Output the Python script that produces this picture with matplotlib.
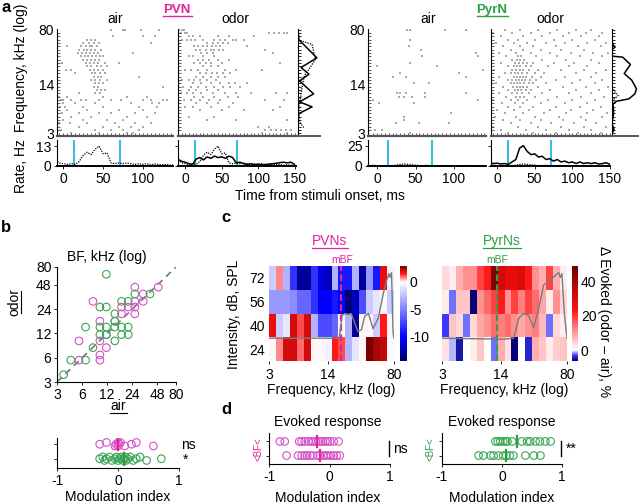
import numpy as np
import matplotlib
matplotlib.use("Agg")
import matplotlib.pyplot as plt
from matplotlib.colors import LinearSegmentedColormap, Normalize
from matplotlib.lines import Line2D
from matplotlib.ticker import FixedLocator, NullFormatter, NullLocator

plt.rcParams['font.family'] = ['Liberation Sans', 'DejaVu Sans']
plt.rcParams['font.size'] = 9

MAG = '#e0249a'
GRN = '#2e9e44'
MAG_PT = '#d650c6'
GRN_PT = '#3aa655'
CYAN = '#36bde0'

# ---------------- panel a: rasters (row index -> spike times, ms) ----------------
freq_rows = np.geomspace(3, 80, 32)
t_bins = np.arange(-10, 155, 5)
cue_times = [14, 71]

pvn_air_spikes = {
    31: [60, 75, 78, 98, 120], 29: [62, 100, 115], 28: [30, 35, 40],
    27: [25, 32, 38, 45, 110], 26: [5, 22, 28, 33, 36, 42], 25: [20, 26, 30, 35, 40, 48],
    24: [18, 24, 29, 34, 39, 44, 88], 23: [22, 27, 31, 36, 41, 46, 50], 22: [25, 30, 35, 40, 45],
    21: [-2, 28, 33, 38, 43, 52, 70], 20: [30, 35, 42, 48, 55], 19: [3, 10, 33, 38, 44, 50],
    18: [15, 36, 40, 46, 52], 17: [38, 43, 48, 95], 16: [35, 40, 46, 55], 15: [40, 45, 50],
    14: [38, 44, 125], 13: [42, 47, 52], 12: [20, 40, 46], 11: [-5, 5, 50, 80, 105],
    10: [-3, 0, 10, 22, 28, 45, 60, 72, 100, 110, 125, 130], 9: [0, 15, 40, 85, 112, 120],
    8: [-4, 2, 25, 50, 95, 118], 7: [5, 30, 70, 100], 6: [-2, 20, 45, 60, 90, 115],
    5: [10, 35, 80, 105], 4: [0, 25, 55, 75], 3: [-5, 8, 30, 65, 90, 110],
    2: [20, 50, 70, 85, 100], 1: [-3, 40, 60, 75, 95], 0: [10, 45, 80, 88],
}
pvn_odor_spikes = {
    31: [-8, -5, -2], 30: [-6, 0, 3, 115, 122, 128, 135, 140], 29: [5, 10, 20, 45, 60, 95],
    28: [-4, 2, 8, 14, 25, 40, 48, 55, 65, 70, 80], 27: [30, 38, 45, 52, 58],
    26: [12, 18, 25, 30, 36, 42, 48, 85], 25: [15, 20, 28, 35, 40, 46, 52, 110],
    24: [22, 30, 38, 120], 23: [5, 10, 25, 40], 22: [18, 25, 32, 45, 60],
    21: [12, 20, 28, 35, 50, 130], 20: [25, 35, 45], 19: [0, 8, 18, 30, 55, 70, 105],
    18: [20, 28, 36, 44, 52, 62], 17: [15, 25, 35, 45, 55], 16: [-5, 5, 12, 20, 30, 42],
    15: [10, 22, 35, 48, 60, 68, 85], 14: [-3, 8, 18, 28, 40, 52, 62, 75], 13: [5, 15, 30, 45],
    12: [-6, 2, 10, 22, 38, 55, 70, 90, 125, 140], 11: [12, 25, 40, 58, 72],
    10: [-2, 8, 20, 32, 48, 110, 135], 9: [15, 30, 45, 65], 8: [0, 10, 35, 60, 130],
    7: [20, 50, 80, 120], 5: [5, 40], 4: [30, 70, 140], 2: [100, 115],
    1: [110, 118, 125, 132, 138, 145], 0: [105, 140],
}
pyr_air_spikes = {
    31: [39, 43, 89, 116], 28: [43], 26: [41], 25: [57], 24: [129], 23: [59, 131], 21: [43],
    20: [0, 78], 19: [138], 18: [30, 107], 17: [21, 37, 116], 15: [48, 67],
    12: [26, 30, 37, 63, 116], 11: [28, 35, 46, 63], 10: [-5, 131], 9: [2, 48], 6: [96],
    5: [35], 4: [35], 3: [24, 54, 94], 1: [-3, 6], 0: [43],
}
pyr_odor_spikes = {
    31: [10, 30, 55, 80, 105, 125], 30: [-5, 20, 45, 70, 95, 118, 140],
    29: [5, 35, 60, 88, 112, 135], 28: [15, 28, 50, 75, 100, 130],
    27: [-2, 22, 40, 65, 90, 120, 145], 26: [8, 30, 48, 78, 108, 138],
    25: [18, 35, 58, 85, 115], 24: [2, 25, 45, 70, 98, 128, 148],
    23: [12, 28, 32, 52, 80, 110, 140], 22: [20, 26, 30, 36, 60, 92, 125],
    21: [5, 24, 29, 34, 40, 48, 75, 102, 135], 20: [15, 22, 27, 31, 38, 45, 68, 95, 120],
    19: [-4, 20, 25, 30, 35, 42, 55, 85, 115, 145], 18: [10, 18, 24, 28, 33, 40, 50, 62, 105, 132],
    17: [3, 22, 26, 30, 34, 38, 46, 58, 90, 125], 16: [14, 20, 25, 29, 33, 37, 44, 52, 78, 110, 140],
    15: [-2, 18, 23, 27, 31, 36, 42, 48, 65, 100, 130], 14: [8, 21, 26, 30, 34, 40, 55, 88, 118, 148],
    13: [15, 24, 28, 32, 38, 45, 70, 105, 135], 12: [2, 20, 27, 33, 42, 60, 95, 125],
    11: [12, 25, 30, 36, 50, 80, 112, 142], 10: [-5, 18, 28, 40, 68, 100, 130],
    9: [6, 24, 35, 58, 90, 120], 8: [15, 30, 48, 78, 110, 138], 7: [0, 22, 42, 70, 98, 128],
    6: [10, 35, 62, 92, 120, 146], 5: [-3, 25, 50, 82, 112, 140], 4: [8, 30, 58, 88, 118],
    3: [18, 45, 72, 102, 132], 2: [-6, 28, 55, 85, 115, 145], 1: [5, 38, 65, 95, 125],
    0: [15, 48, 78, 108, 138],
}

# firing rate (Hz), 5 ms bins from -10 to 150 ms
pvn_air_rate = [4, 2, 1.5, 1, 1.5, 1, 3, 7, 9, 7.5, 11, 13, 8, 8.5, 2, 1.5, 2, 1.5, 2, 1.5,
                1, 1.5, 1, 1.5, 0.8, 1.2, 1, 0.8, 1, 0.5, 0.8, 0.5, 0.5]
pvn_odor_rate = [4.5, 3, 2.5, 1.5, 1, 4.5, 5.5, 4, 6, 5, 6.5, 5.5, 6, 5, 6.5, 5.5, 2, 2.5, 1.5, 1,
                 1.5, 0.8, 1.2, 0.8, 1, 1.2, 1.5, 1.8, 2.2, 2.5, 2, 2.5, 1]
pyr_air_rate = [0.5, 0.8, 0.5, 0.3, 0.5, 0.3, 0.5, 1, 2, 2.5, 2, 1.5, 1, 0.5, 0.5, 0.8, 0.5, 0.3,
                0.5, 0.3, 0.5, 0.3, 0.2, 0.4, 0.3, 0.5, 0.3, 0.2, 0.4, 0.3, 0.2, 0.3, 0.2]
pyr_odor_rate = [4, 3, 3.5, 2.5, 3, 2, 5, 8, 22, 25, 18, 14, 15, 11, 12, 8, 9, 6, 8, 5, 6, 4, 5,
                 3, 5, 3, 4, 3, 4, 2.5, 3, 4, 2]

# side frequency profiles (normalised rate, row index)
pvn_prof_solid_x = [0.0, 0.04, 0.86, 0.14, 0.5, 0.07, 0.71, 0.07, 0.64, 0.04, 0.0, 0.0]
pvn_prof_solid_row = [31, 28, 22.6, 19.7, 17.7, 15.7, 11.8, 9.4, 7.9, 5.9, 3, 0]
pvn_prof_dot_x = [0.0, 0.0, 0.64, 0.79, 0.5, 0.29, 0.21, 0.14, 0.07, 0.0, 0.07, 0.29]
pvn_prof_dot_row = [31, 28, 26.6, 22.1, 19.2, 17.2, 14.8, 11.8, 8.9, 5.9, 3.4, 1.4]
pyr_prof_solid_x = [0.0, 0.0, 0.04, 0.12, 0.0, 0.0, 0.41, 0.71, 0.47, 0.76, 0.94, 0.88, 0.65,
                    0.18, 0.04, 0.06, 0.0, 0.08, 0.0]
pyr_prof_solid_row = [31, 27.5, 26.5, 25.8, 25.1, 23.1, 22.8, 20.6, 17.9, 15.9, 13.3, 11.8,
                      10.3, 9.6, 8.8, 5.9, 3.0, 1.0, 0]
pyr_prof_dot_x = [0.0, 0.0, 0.12, 0.24, 0.08, 0.0, 0.0]
pyr_prof_dot_row = [31, 13.7, 12.3, 11.3, 10.3, 9.3, 0]

# ---------------- panel b ----------------
pvn_bf_air = [8.1, 5.5, 5.5, 9.8, 9.8, 9.8, 9.8, 11.7, 11.7, 17.8, 17.8, 14.8, 25.7, 25.7,
              25.7, 25.7, 32.4, 32.4, 49, 21.4]
pvn_bf_odor = [30, 9.7, 5.6, 17, 9.7, 6.5, 5.6, 8, 11.6, 25.5, 21, 17, 45, 30, 25.5, 21, 37,
               30, 45, 25.5]
pyr_bf_air = [11.7, 25.7, 39, 9.8, 11.7, 17.8, 21.4, 14.8, 6.6, 9.8, 11.7, 14.8, 17.8, 21.4,
              9.8, 11.7, 17.8, 21.4, 14.8, 8.1, 6.6, 4.4, 3.6, 14.8]
pyr_bf_odor = [65, 37, 37, 25.5, 25.5, 30, 30, 21, 14.4, 14.4, 14.4, 14.4, 14.4, 14.4, 11.6,
               11.6, 11.6, 11.6, 9.7, 8, 5.6, 5.6, 3.7, 17]
pvn_mi_b = [-0.30, -0.19, -0.05, -0.03, 0.0, 0.0, 0.02, 0.04, 0.11, 0.22, 0.30, 0.58]
pyr_mi_b = [-0.30, -0.25, -0.22, -0.19, -0.14, -0.10, -0.05, -0.02, 0.0, 0.03, 0.05, 0.08,
            0.10, 0.12, 0.13, 0.16, 0.20, 0.25, 0.30, 0.36, 0.47, 0.71]
pvn_mi_b_med = 0.0
pyr_mi_b_med = 0.10

# ---------------- panel c ----------------
db_levels = [24, 40, 56, 72]
freq_edges = np.geomspace(3, 80, 19)
pvn_delta = [
    [0, 0.8, 2, 2, 1, 2, 0, 0, -0.5, 1.5, 1.2, -3, -1, 0, 2.9, 2.4, 2.2, 0],
    [1.8, -2, -1, 2, 1.2, 2, -3, -7, -7, -6, 0, -3, -13, 0, 0, -2, 1.5, 0],
    [-4, -4, -4, -4.5, -6, -6, -8, -10, -10, -9, -10, -14, -12, -7, -2, -1, 0, -2],
    [-2, 0.8, -3, -8, -13, -13, -8, -11, -12, -3, -9, -9, -3, -13, -4, -9, 1.8, -0.5],
]
pyr_delta = [
    [3, -1, -5, 0, 2, 6, 0, -2, 8, 3, -6, 0, -4, 8, 6, 2, 5, 6],
    [-3, 6, 4, -2, 4, 9, 11, 15, 13, 15, 11, 9, 11, 13, 7, -2, 4, 2],
    [2, -2, 6, 6, -6, 11, 15, 19, 23, 11, 19, 13, 19, 15, 9, 2, 11, 4],
    [4, 2, 8, 11, 11, 19, 23, 46, 32, 28, 28, 30, 23, 11, 8, 19, 8, 2],
]
pvn_mbf = 20
pyr_mbf = 12.6
pvn_tc_f = [3, 19, 20.5, 22, 24, 26, 28.5, 31, 34, 37, 41, 46, 53, 60, 66, 70, 72, 75, 78, 80]
pvn_tc_h = [0.24, 0.24, 0.48, 0.50, 0.49, 0.50, 0.40, 0.31, 0.33, 0.47, 0.50, 0.34, 0.45, 0.70,
            0.85, 0.92, 0.88, 0.93, 0.30, 0.24]
pyr_tc_f = [3, 15, 19.7, 22.5, 25.6, 29.2, 33.3, 38, 43.3, 51.6, 58.8, 64.2, 67, 70, 74.6, 80]
pyr_tc_h = [0.24, 0.23, 0.24, 0.45, 0.50, 0.48, 0.35, 0.55, 0.80, 0.85, 0.90, 0.93, 0.88,
            0.92, 0.50, 0.24]

# ---------------- panel d ----------------
pvn_d_up = [-0.82, -0.74, -0.5, -0.46, -0.41, -0.35, -0.31, -0.27, -0.22, -0.18, -0.14,
            -0.11, -0.07, -0.03, 0.01, 0.07, 0.15]
pvn_d_lo = [-0.71, -0.52, -0.46, -0.41, -0.37, -0.32, -0.27, -0.2, -0.16, -0.1, -0.06,
            -0.02, 0.02, 0.07, 0.12, 0.17]
pvn_d_med = [-0.21, -0.16]
pyr_d_up = [-0.11, -0.07, -0.03, 0.02, 0.06, 0.09, 0.17, 0.33, 0.42, 0.47, 0.56, 0.63, 0.72, 0.81]
pyr_d_lo = [-0.39, -0.31, -0.19, -0.14, -0.06, 0.02, 0.07, 0.13, 0.19, 0.39, 0.53, 0.64]
pyr_d_med = [0.25, 0.07]

W, H = 640, 504
fig = plt.figure(figsize=(6.4, 5.04), dpi=100)


def box(l, t, r, b):
    return fig.add_axes([l / W, 1 - b / H, (r - l) / W, (b - t) / H])


def ftext(x, y, s, **kw):
    kw.setdefault('ha', 'center')
    kw.setdefault('va', 'center')
    fig.text(x / W, 1 - y / H, s, **kw)


def fline(x0, y0, x1, y1, **kw):
    fig.add_artist(Line2D([x0 / W, x1 / W], [1 - y0 / H, 1 - y1 / H],
                          transform=fig.transFigure, **kw))


def row_freq(rows):
    return 3 * (80 / 3) ** (np.array(rows) / 31)


def only_left_bottom(ax):
    ax.spines['top'].set_visible(False)
    ax.spines['right'].set_visible(False)


FLO = 2.75


def raster(ax, spikes, xlim, show_labels):
    xs, ys = [], []
    for r, ts in spikes.items():
        xs.extend(ts)
        ys.extend([freq_rows[r]] * len(ts))
    ax.scatter(xs, ys, s=1.1, marker='s', c='#aaaaaa', linewidths=0)
    ax.set_yscale('log')
    ax.set_ylim(FLO, 82)
    ax.set_xlim(*xlim)
    ax.yaxis.set_major_locator(FixedLocator([3, 14, 80]))
    ax.yaxis.set_minor_locator(FixedLocator(freq_rows))
    ax.yaxis.set_minor_formatter(NullFormatter())
    ax.set_yticklabels(['3', '14', '80'] if show_labels else [])
    ax.xaxis.set_major_locator(FixedLocator(np.arange(-5, 151, 5)))
    ax.set_xticklabels([])
    ax.tick_params(which='both', length=2, direction='in', width=0.6, color='#444444')
    ax.tick_params(axis='y', which='major', length=0, pad=2, labelsize=10)
    only_left_bottom(ax)
    ax.spines['bottom'].set_linewidth(1.6)
    ax.spines['bottom'].set_color('#555555')
    ax.spines['left'].set_linewidth(0.8)


def rate(ax, solid, dotted, xlim, ymax, ytop, xt, show_labels):
    for c in cue_times:
        ax.axvline(c, color=CYAN, lw=1.5)
    if dotted is not None:
        ax.plot(t_bins, dotted, ls=(0, (1, 1)), color='k', lw=0.9)
    if solid is not None:
        ax.plot(t_bins, solid, color='k', lw=1.1)
    ax.set_xlim(*xlim)
    ax.set_ylim(0, ymax)
    ax.set_xticks(xt)
    ax.set_yticks([0, ytop])
    ax.set_yticklabels(['0', str(ytop)] if show_labels else [])
    ax.tick_params(length=2, pad=2, labelsize=10, width=0.6)
    only_left_bottom(ax)
    ax.spines['bottom'].set_linewidth(1.4)


def profile(ax, sx, srow, dx, drow):
    ax.plot(dx, row_freq(drow), ls=(0, (1, 1)), color='k', lw=0.9)
    ax.plot(sx, row_freq(srow), color='k', lw=1.1)
    ax.set_yscale('log')
    ax.set_ylim(FLO, 82)
    ax.set_xlim(0, 1)
    ax.yaxis.set_major_locator(FixedLocator(freq_rows))
    ax.yaxis.set_minor_locator(NullLocator())
    ax.set_yticklabels([])
    ax.set_xticks([])
    ax.tick_params(length=2, direction='in', width=0.6)
    only_left_bottom(ax)
    ax.spines['bottom'].set_linewidth(1.4)
    ax.spines['bottom'].set_color('#555555')


# ---------------- panel a ----------------
raster(box(57, 29, 173, 136), pvn_air_spikes, (-8, 138), True)
raster(box(178, 29, 296, 136), pvn_odor_spikes, (-10, 152), False)
profile(box(298, 29, 320, 136), pvn_prof_solid_x, pvn_prof_solid_row, pvn_prof_dot_x, pvn_prof_dot_row)
rate(box(57, 140, 173, 166), None, pvn_air_rate, (-8, 138), 17, 13, [0, 50, 100], True)
rate(box(178, 140, 296, 166), pvn_odor_rate, pvn_air_rate, (-10, 152), 17, 13, [0, 50, 100, 150], False)

raster(box(368, 29, 486, 136), pyr_air_spikes, (-12, 142), True)
raster(box(491, 29, 610, 136), pyr_odor_spikes, (-8, 150), False)
profile(box(612, 29, 638, 136), pyr_prof_solid_x, pyr_prof_solid_row, pyr_prof_dot_x, pyr_prof_dot_row)
rate(box(368, 140, 486, 166), None, pyr_air_rate, (-12, 142), 32, 25, [0, 50, 100], True)
rate(box(491, 140, 610, 166), pyr_odor_rate, pyr_air_rate, (-8, 150), 32, 25, [0, 50, 100, 150], False)

ftext(6, 8, 'a', fontsize=12, fontweight='bold')
ftext(177, 10, 'PVN', color=MAG, fontweight='bold', fontsize=9.5)
fline(163, 16, 192, 16, color=MAG, lw=1)
ftext(492, 10, 'PyrN', color=GRN, fontweight='bold', fontsize=9.5)
fline(477, 16, 508, 16, color=GRN, lw=1)
for x, s in [(115, 'air'), (235, 'odor'), (428, 'air'), (550, 'odor')]:
    ftext(x, 19, s, fontsize=10)
ftext(21, 68, 'Frequency, kHz (log)', rotation=90, fontsize=10)
ftext(21, 166, 'Rate, Hz', rotation=90, fontsize=10)
ftext(320, 196, 'Time from stimuli onset, ms', fontsize=10)

# ---------------- panel b ----------------
ax = box(57, 267, 176, 382)
ax.plot([3, 80], [3, 80], ls=(0, (4, 3)), color='#777777', lw=1.2, zorder=1)
ax.scatter(pvn_bf_air, pvn_bf_odor, s=30, facecolors='none', edgecolors=MAG_PT, linewidths=0.8)
ax.scatter(pyr_bf_air, pyr_bf_odor, s=30, facecolors='none', edgecolors=GRN_PT, linewidths=0.8)
ax.set_xscale('log')
ax.set_yscale('log')
ax.set_xlim(3, 80)
ax.set_ylim(3, 80)
bf_ticks = [3, 6, 12, 24, 48, 80]
for axis in (ax.xaxis, ax.yaxis):
    axis.set_major_locator(FixedLocator(bf_ticks))
    axis.set_minor_locator(NullLocator())
ax.set_xticklabels([str(v) for v in bf_ticks])
ax.set_yticklabels([str(v) for v in bf_ticks])
ax.tick_params(length=2, pad=2, labelsize=10, width=0.6)
only_left_bottom(ax)

ftext(6, 228, 'b', fontsize=12, fontweight='bold')
ftext(107, 257, 'BF, kHz (log)', fontsize=10)
ftext(118, 406, 'air', fontsize=10)
fline(110, 413, 127, 413, color='k', lw=0.8)
ftext(14, 302, 'odor', rotation=90, fontsize=10)
fline(21, 291, 21, 313, color='k', lw=0.8)

ax = box(57, 438, 179, 468)
off3 = [0.0, 0.12, -0.12]
ax.scatter(pvn_mi_b, [1 + off3[i % 3] for i in range(len(pvn_mi_b))], s=30,
           facecolors='none', edgecolors=MAG_PT, linewidths=0.8)
ax.scatter(pyr_mi_b, [0 + off3[i % 3] for i in range(len(pyr_mi_b))], s=30,
           facecolors='none', edgecolors=GRN_PT, linewidths=0.8)
ax.plot([pvn_mi_b_med] * 2, [0.6, 1.4], color=MAG, lw=1.6)
ax.plot([pyr_mi_b_med] * 2, [-0.4, 0.4], color=GRN, lw=1.6)
ax.set_xlim(-1, 1)
ax.set_ylim(-0.64, 1.43)
ax.set_xticks([-1, 0, 1])
ax.set_xticklabels(['-1', '0', '1'])
ax.set_yticks([0, 1])
ax.set_yticklabels([])
ax.tick_params(length=2, pad=2, labelsize=10, width=0.6)
only_left_bottom(ax)
ftext(188, 445, 'ns', fontsize=10)
ftext(186, 460, '*', fontsize=10)
ftext(118, 497, 'Modulation index', fontsize=10)

# ---------------- panel c ----------------


def anchored_cmap(vmin, vmax, anchors):
    stops = [((v - vmin) / (vmax - vmin), c) for v, c in anchors]
    return LinearSegmentedColormap.from_list('cm', stops)


pvn_cmap = anchored_cmap(-14.4, 2.9, [(-14.4, '#00006e'), (-10, '#0000ff'), (0, '#ffffff'),
                                      (1.6, '#ff1010'), (2.9, '#7a0000')])
pyr_cmap = anchored_cmap(-6.3, 49, [(-6.3, '#00006e'), (-3, '#3a3aff'), (0, '#ffffff'),
                                    (24, '#ff1010'), (49, '#6e0000')])
db_edges = [16, 32, 48, 64, 80]


def heat(rect, data, cmap, vmin, vmax, mbf, mcol, tc_f, tc_h, show_y):
    ax = box(*rect)
    ax.pcolormesh(freq_edges, db_edges, np.array(data), cmap=cmap, norm=Normalize(vmin, vmax))
    ax.set_xscale('log')
    ax.set_xlim(3, 80)
    ax.set_ylim(16, 80)
    ax.axvline(mbf, color=mcol, ls=(0, (3, 1.5)), lw=1.6)
    ax.xaxis.set_major_locator(FixedLocator([3, 14, 80]))
    ax.xaxis.set_minor_locator(NullLocator())
    ax.set_xticklabels(['3', '14', '80'])
    ax.set_yticks(db_levels)
    ax.set_yticklabels([str(v) for v in db_levels] if show_y else [])
    ax.tick_params(axis='x', length=2, pad=3, labelsize=10, width=0.6)
    ax.tick_params(axis='y', length=0, pad=3, labelsize=10)
    for s in ax.spines.values():
        s.set_visible(False)
    ov = fig.add_axes(ax.get_position())
    ov.plot(tc_f, tc_h, color='#7a7a7a', lw=1.0)
    ov.set_xscale('log')
    ov.set_xlim(3, 80)
    ov.set_ylim(0, 1)
    ov.axis('off')


def cbar(rect, cmap, vmin, vmax, ticks):
    ax = box(*rect)
    levels = np.linspace(vmin, vmax, 257)
    ax.pcolormesh([0, 1], levels, ((levels[:-1] + levels[1:]) / 2)[:, None], cmap=cmap,
                  norm=Normalize(vmin, vmax))
    ax.set_ylim(vmin, vmax)
    ax.set_xticks([])
    ax.yaxis.tick_right()
    ax.set_yticks(ticks)
    ax.set_yticklabels([str(t) for t in ticks])
    ax.tick_params(length=0, pad=2, labelsize=10)
    for s in ax.spines.values():
        s.set_visible(False)


heat((269, 266, 394, 361), pvn_delta, pvn_cmap, -14.4, 2.9, pvn_mbf, MAG, pvn_tc_f, pvn_tc_h, True)
cbar((400, 266, 407, 361), pvn_cmap, -14.4, 2.9, [0, -5, -10])
heat((442, 266, 567, 361), pyr_delta, pyr_cmap, -6.3, 49, pyr_mbf, GRN, pyr_tc_f, pyr_tc_h, False)
cbar((572, 266, 578, 361), pyr_cmap, -6.3, 49, [40, 20, 0])

ftext(226, 217, 'c', fontsize=12, fontweight='bold')
ftext(330, 241, 'PVNs', color=MAG, fontsize=10)
fline(312, 248, 348, 248, color=MAG, lw=0.9)
ftext(502, 241, 'PyrNs', color=GRN, fontsize=10)
fline(483, 248, 521, 248, color=GRN, lw=0.9)
ftext(342, 260, 'mBF', color=MAG, fontsize=7.5)
ftext(497, 260, 'mBF', color=GRN, fontsize=7.5)
ftext(234, 314, 'Intensity, dB, SPL', rotation=90, fontsize=10)
ftext(331, 390, 'Frequency, kHz (log)', fontsize=10)
ftext(504, 390, 'Frequency, kHz (log)', fontsize=10)
ftext(604, 322, 'Δ Evoked (odor – air), %', rotation=-90, fontsize=10)

# ---------------- panel d ----------------


def strip(rect, up, lo, med, col_pt, col):
    ax = box(*rect)
    ax.scatter(up, [1] * len(up), s=30, facecolors='none', edgecolors=col_pt, linewidths=0.8)
    ax.scatter(lo, [0] * len(lo), s=30, facecolors='none', edgecolors=col_pt, linewidths=0.8)
    ax.plot([med[0]] * 2, [0.6, 1.4], color=col, lw=1.6)
    ax.plot([med[1]] * 2, [-0.4, 0.4], color=col, lw=1.6)
    ax.set_xlim(-1, 1)
    ax.set_ylim(-0.6, 1.6)
    ax.set_xticks([-1, 0, 1])
    ax.set_xticklabels(['-1', '0', '1'])
    ax.set_yticks([0, 1])
    ax.set_yticklabels([])
    ax.tick_params(length=2, pad=2, labelsize=10, width=0.6)
    only_left_bottom(ax)


strip((269, 433, 390, 464), pvn_d_up, pvn_d_lo, pvn_d_med, MAG_PT, MAG)
strip((442, 433, 562, 464), pyr_d_up, pyr_d_lo, pyr_d_med, GRN_PT, GRN)

ftext(226, 410, 'd', fontsize=12, fontweight='bold')
ftext(328, 422, 'Evoked response', fontsize=10)
ftext(502, 422, 'Evoked response', fontsize=10)
ftext(258, 449, '<BF<', rotation=90, color=MAG, fontsize=7)
ftext(430, 449, '<BF<', rotation=90, color=GRN, fontsize=7)
fline(389, 441, 389, 456, color='k', lw=1)
ftext(400, 449, 'ns', fontsize=10)
fline(561, 441, 561, 456, color='k', lw=1)
ftext(571, 449, '**', fontsize=10)
ftext(328, 498, 'Modulation index', fontsize=10)
ftext(502, 498, 'Modulation index', fontsize=10)

fig.savefig('out.png', dpi=100)
